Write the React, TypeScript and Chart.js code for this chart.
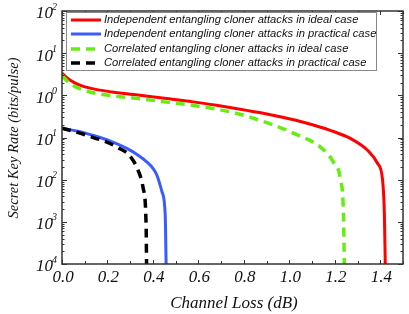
import React, { useEffect, useRef } from "react";
import { Chart, registerables } from "chart.js";

Chart.register(...registerables);

const seriesLabels = [
  "Independent entangling cloner attacks in ideal case",
  "Independent entangling cloner attacks in practical case",
  "Correlated entangling cloner attacks in ideal case",
  "Correlated entangling cloner attacks in practical case",
];

const redX = [0, 0.012, 0.035, 0.07, 0.123, 0.22, 0.343, 0.46, 0.577, 0.68, 0.784, 0.88, 0.96, 1.07, 1.18, 1.269, 1.344, 1.388, 1.41, 1.418, 1.422];
const redY = [3.4, 2.9, 2.3, 1.82, 1.48, 1.2, 1.0, 0.84, 0.7, 0.58, 0.47, 0.38, 0.31, 0.224, 0.148, 0.095, 0.05, 0.0245, 0.01, 0.0016, 0.0001];

const blueX = [0, 0.07, 0.137, 0.21, 0.285, 0.335, 0.374, 0.4, 0.418, 0.44, 0.454, 0.458];
const blueY = [0.166, 0.141, 0.112, 0.083, 0.055, 0.038, 0.026, 0.0186, 0.0126, 0.0051, 0.00145, 0.0001];

const greenX = [0, 0.012, 0.035, 0.07, 0.123, 0.22, 0.343, 0.46, 0.577, 0.68, 0.784, 0.885, 0.96, 1.035, 1.136, 1.194, 1.225, 1.238, 1.242];
const greenY = [3.0, 2.51, 1.9, 1.5, 1.2, 0.98, 0.83, 0.69, 0.575, 0.47, 0.355, 0.24, 0.172, 0.115, 0.06, 0.026, 0.01, 0.0016, 0.0001];

const blackX = [0, 0.05, 0.11, 0.211, 0.25, 0.285, 0.31, 0.33, 0.357, 0.37, 0.372];
const blackY = [0.166, 0.141, 0.112, 0.072, 0.056, 0.043, 0.03, 0.019, 0.0063, 0.00083, 0.0001];

const xTickValues = [0, 0.2, 0.4, 0.6, 0.8, 1.0, 1.2, 1.4];
const xTickLabels = ["0.0", "0.2", "0.4", "0.6", "0.8", "1.0", "1.2", "1.4"];
const yTickExponents = [2, 1, 0, -1, -2, -3, -4];
const yTickSupLabels = ["2", "1", "0", "1", "2", "3", "4"];

const xTitle = "Channel Loss (dB)";
const yTitle = "Secret Key Rate (bits/pulse)";

const colors = ["#ff0000", "#3a5bff", "#66ee11", "#000000"];
const widths = [3, 3, 3.5, 3.5];
const dashes: number[][] = [[], [], [9, 6], [9, 6]];

function pts(xs: number[], ys: number[]) {
  return xs.map((x, i) => ({ x, y: ys[i] }));
}

const decorPlugin = {
  id: "decor",
  afterDraw(chart: any) {
    const ctx = chart.ctx as CanvasRenderingContext2D;
    const { left, right, top, bottom } = chart.chartArea;
    const xs = chart.scales.x;
    const ys = chart.scales.y;
    ctx.save();
    ctx.strokeStyle = "#333";
    ctx.lineWidth = 1.5;
    ctx.setLineDash([]);
    ctx.strokeRect(left, top, right - left, bottom - top);

    // x ticks
    ctx.lineWidth = 1;
    for (let i = 0; i <= 15; i++) {
      const px = Math.round(xs.getPixelForValue(i / 10)) + 0.5;
      const len = i % 2 === 0 ? 4 : 3;
      ctx.beginPath();
      ctx.moveTo(px, bottom);
      ctx.lineTo(px, bottom - len);
      ctx.moveTo(px, top);
      ctx.lineTo(px, top + len);
      ctx.stroke();
    }
    // y ticks
    for (let e = -4; e <= 2; e++) {
      const py = Math.round(ys.getPixelForValue(Math.pow(10, e))) + 0.5;
      ctx.beginPath();
      ctx.moveTo(left, py);
      ctx.lineTo(left + 5, py);
      ctx.moveTo(right, py);
      ctx.lineTo(right - 5, py);
      ctx.stroke();
      if (e < 2) {
        for (let m = 2; m <= 9; m++) {
          const pm = Math.round(ys.getPixelForValue(m * Math.pow(10, e))) + 0.5;
          ctx.beginPath();
          ctx.moveTo(left, pm);
          ctx.lineTo(left + 2.5, pm);
          ctx.moveTo(right, pm);
          ctx.lineTo(right - 2.5, pm);
          ctx.stroke();
        }
      }
    }

    // x tick labels
    ctx.fillStyle = "#111";
    ctx.font = "italic 17px 'Liberation Serif'";
    ctx.textAlign = "center";
    ctx.textBaseline = "middle";
    xTickValues.forEach((v, i) => {
      ctx.fillText(xTickLabels[i], xs.getPixelForValue(v) + 1, 278);
    });
    // y tick labels
    yTickExponents.forEach((e, i) => {
      const py = ys.getPixelForValue(Math.pow(10, e));
      ctx.font = "italic 10px 'Liberation Serif'";
      const supW = ctx.measureText(yTickSupLabels[i]).width;
      ctx.textAlign = "left";
      ctx.textBaseline = "middle";
      const supX = 57 - supW;
      ctx.fillText(yTickSupLabels[i], supX, py - 4);
      ctx.font = "italic 17px 'Liberation Serif'";
      ctx.textAlign = "right";
      ctx.fillText("10", supX + 1, py + 3);
    });

    // axis titles
    ctx.font = "italic 17px 'Liberation Serif'";
    ctx.textAlign = "center";
    ctx.textBaseline = "middle";
    ctx.fillText(xTitle, 234, 304);
    ctx.save();
    ctx.font = "italic 14.5px 'Liberation Serif'";
    ctx.translate(14, 138);
    ctx.rotate(-Math.PI / 2);
    ctx.fillText(yTitle, 0, 0);
    ctx.restore();

    // legend
    ctx.fillStyle = "#fff";
    ctx.fillRect(66.5, 12.5, 310, 58);
    ctx.strokeStyle = "#888";
    ctx.lineWidth = 1;
    ctx.strokeRect(66.5, 12.5, 310, 58);
    const rows = [20, 34, 49, 63];
    seriesLabels.forEach((lab, i) => {
      const y = rows[i];
      ctx.strokeStyle = colors[i];
      ctx.lineWidth = widths[i];
      ctx.setLineDash(dashes[i]);
      ctx.beginPath();
      ctx.moveTo(71, y);
      ctx.lineTo(101, y);
      ctx.stroke();
      ctx.setLineDash([]);
      ctx.fillStyle = "#111";
      ctx.font = "italic 11.2px 'Liberation Sans'";
      ctx.textAlign = "left";
      ctx.textBaseline = "middle";
      ctx.fillText(lab, 104, y);
    });
    ctx.restore();
  },
};

export default function App() {
  const ref = useRef<HTMLCanvasElement | null>(null);
  useEffect(() => {
    document.body.style.margin = "0";
    const canvas = ref.current;
    if (!canvas) return;
    const dataSets = [
      pts(redX, redY),
      pts(blueX, blueY),
      pts(greenX, greenY),
      pts(blackX, blackY),
    ];
    const orders = [1, 1, 0, 0];
    const chart = new Chart(canvas, {
      type: "line",
      data: {
        datasets: dataSets.map((d, i) => ({
          label: seriesLabels[i],
          data: d,
          borderColor: colors[i],
          backgroundColor: colors[i],
          borderWidth: widths[i],
          borderDash: dashes[i],
          pointRadius: 0,
          fill: false,
          cubicInterpolationMode: "monotone" as const,
          order: orders[i],
        })),
      },
      options: {
        animation: false,
        responsive: false,
        devicePixelRatio: 1,
        layout: { padding: { top: 11, right: 6, left: 0, bottom: 0 } },
        plugins: { legend: { display: false }, tooltip: { enabled: false } },
        scales: {
          x: {
            type: "linear",
            min: 0,
            max: 1.5,
            ticks: { display: false },
            grid: { display: false },
            border: { display: false },
            afterFit: (s: any) => {
              s.height = 50;
            },
          },
          y: {
            type: "logarithmic",
            min: 1e-4,
            max: 100,
            ticks: { display: false },
            grid: { display: false },
            border: { display: false },
            afterFit: (s: any) => {
              s.width = 62;
            },
          },
        },
      },
      plugins: [decorPlugin],
    });
    return () => chart.destroy();
  }, []);
  return (
    <div style={{ position: "absolute", left: 0, top: 0, width: 409, height: 314 }}>
      <canvas ref={ref} width={409} height={314} />
    </div>
  );
}
